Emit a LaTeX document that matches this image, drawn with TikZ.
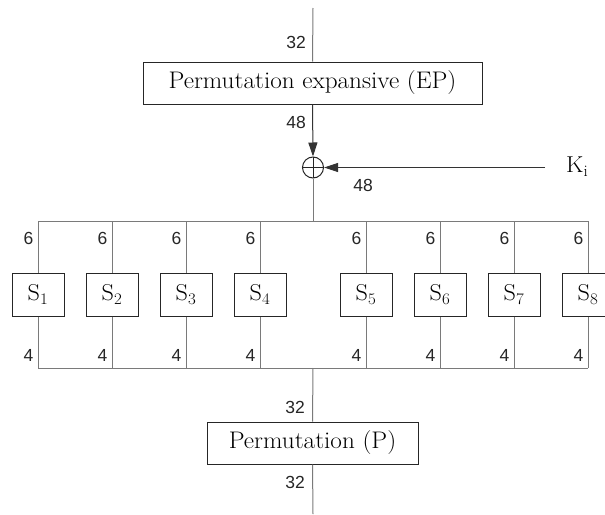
\documentclass[tikz,border=0pt]{standalone}
\usepackage{fontspec}
\newfontfamily\numfont{Liberation Sans}
\newfontfamily\boxfont{lmroman17-regular.otf}[FakeStretch=1.05]
\usetikzlibrary{arrows.meta}
\definecolor{linegray}{HTML}{7A7A7A}
\definecolor{arrgray}{HTML}{333333}
\begin{document}
\begin{tikzpicture}[x=1pt,y=-1pt,
  line/.style={draw=linegray, line width=1pt},
  box/.style={draw=black!85, line width=1pt, fill=white, inner sep=0pt, font=\boxfont\fontsize{24}{28}\selectfont},
  sbox/.style={draw=black!85, line width=1pt, fill=white, inner sep=0pt, minimum width=52pt, minimum height=43pt, font=\boxfont\fontsize{23}{26}\selectfont},
  num/.style={font=\numfont\fontsize{17.5}{18}\selectfont, inner sep=0pt, text=black!85},
  arr/.style={line, -{Triangle[length=14pt,width=9pt]}, arrgray},
  xorstyle/.style={circle, draw=black!85, line width=1pt, minimum size=21pt, inner sep=0pt,
    path picture={\draw[black!85, line width=0.8pt] (path picture bounding box.north) -- (path picture bounding box.south)
      (path picture bounding box.west) -- (path picture bounding box.east);}}
]
\clip (0,0) rectangle (605,514);
\fill[white] (0,0) rectangle (605,514);

% main blocks
\node[box, minimum width=339pt, minimum height=42pt] (ep) at (312.5,83) {Permutation expansive (EP)};
\node[xorstyle] (xor) at (313,167.5) {};
\node[box, minimum width=211pt, minimum height=42pt] (p) at (312.5,443) {Permutation (P)};
\node[font=\boxfont\fontsize{23}{26}\selectfont, anchor=west, inner sep=0pt] (ki) at (566,167) {K\textsubscript{i}};

\coordinate (top) at (313,8);
\coordinate (bot) at (313,514);
\coordinate (kin) at (545,167.5);
\coordinate (bustop) at (313,221);
\coordinate (busbot) at (313,368);
\coordinate (bl) at (38,221);
\coordinate (br) at (588,221);
\coordinate (bbl) at (38,368);
\coordinate (bbr) at (588,368);

\draw[line] (top) -- (ep.north);
\draw[arr] (ep.south) -- (xor.north);
\draw[arr] (kin) -- (xor.east);
\draw[line] (xor.south) -- (bustop);
\draw[line] (bl) -- (br);
\draw[line] (bbl) -- (bbr);
\draw[line] (busbot) -- (p.north);
\draw[line] (p.south) -- (bot);

\node[num, anchor=east] (l32a) at (306,42) {32};
\node[num, anchor=east] (l48a) at (306,122) {48};
\node[num] (l48b) at (363,185) {48};
\node[num, anchor=east] (l32b) at (305,407) {32};
\node[num, anchor=east] (l32c) at (305,482) {32};

\foreach \i/\x in {1/38,2/112,3/186,4/260,5/366,6/440,7/514,8/588}{
  \node[sbox] (s\i) at (\x,294.5) {S\textsubscript{\i}};
  \coordinate (t\i) at (\x,221);
  \coordinate (b\i) at (\x,368);
  \draw[line] (t\i) -- (s\i.north);
  \draw[line] (s\i.south) -- (b\i);
  \node[num, anchor=east] (six\i) at (\x-4.5,238.5) {6};
  \node[num, anchor=east] (four\i) at (\x-4.5,355) {4};
}
\end{tikzpicture}
\end{document}
